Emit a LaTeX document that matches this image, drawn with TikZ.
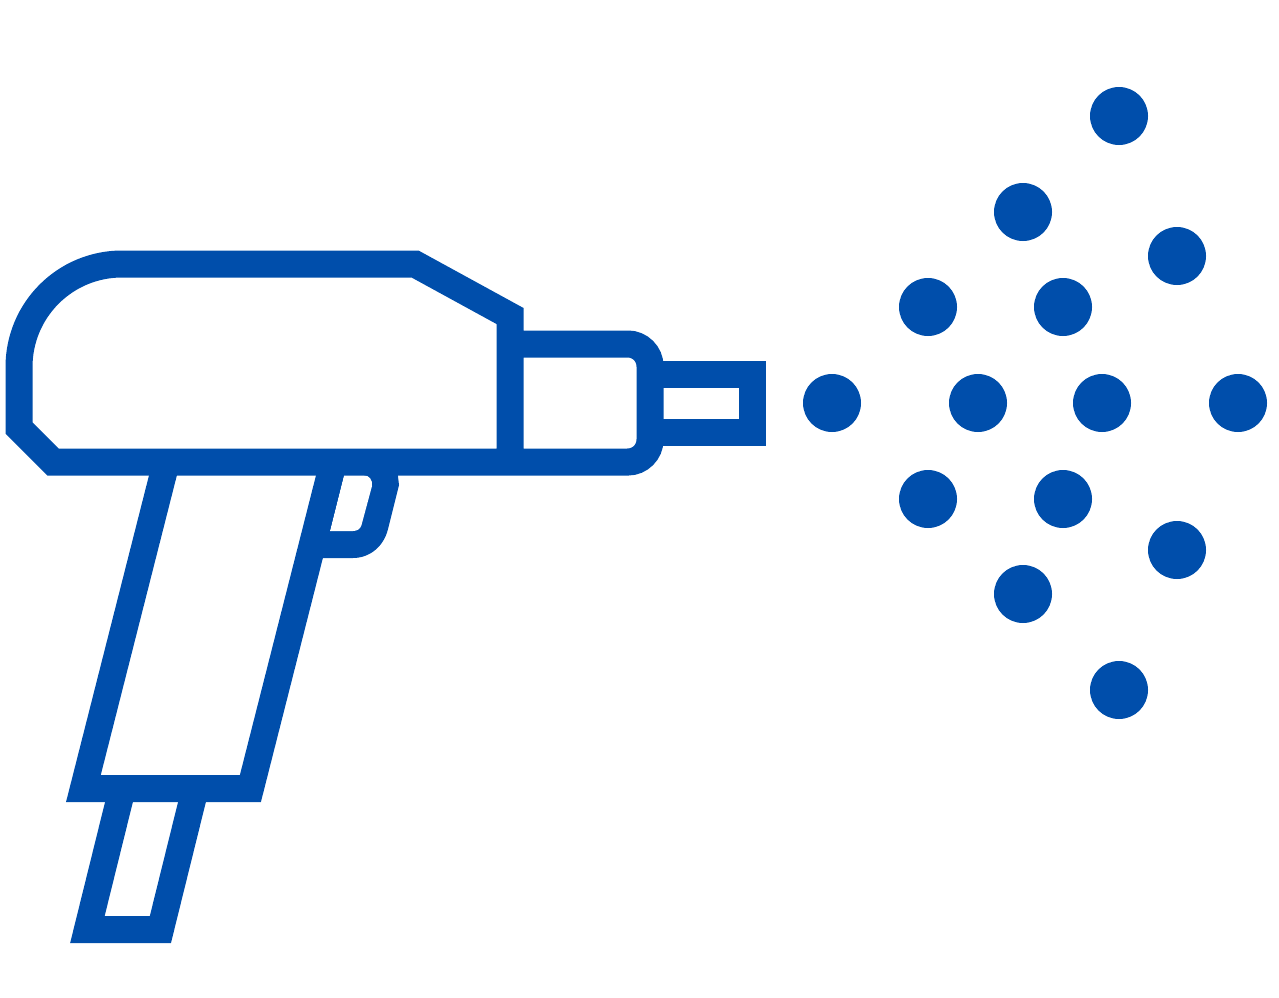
\documentclass[tikz,border=0pt]{standalone}
\definecolor{gunblue}{RGB}{0,78,171}
\tikzset{
  gunline/.style={draw=gunblue,line width=27pt,miter limit=10,line join=miter,line cap=butt},
  spraydot/.style={circle,fill=gunblue,draw=none,minimum size=58pt,inner sep=0pt,outer sep=0pt}
}
\begin{document}
\begin{tikzpicture}[x=1pt,y=-1pt]
\useasboundingbox (0,0) rectangle (1279,998);
% trigger: outer shape, then its opening
\fill[gunblue] (325,468) -- (397,468) -- (399,485) -- (388,529)
  .. controls (384,546) and (370,558) .. (353,558) -- (318,558) -- cycle;
\fill[white] (344,475) -- (363,475) .. controls (369,475) and (373,480) .. (372,486) -- (361.5,525)
  .. controls (360.5,529) and (357,531) .. (353,531) -- (330,531) -- cycle;
% lower grip
\draw[gunline] (120.7,795) -- (87.4,929.5) -- (160.4,929.5) -- (193.7,795);
% handle
\draw[gunline] (164.3,470) -- (83.4,788.5) -- (250.4,788.5) -- (331.3,470);
% body
\draw[gunline] (510,462) -- (510,316) -- (415,264) -- (122,264)
  .. controls (65,264) and (19,310) .. (19,367) -- (19,428) -- (53,462) -- (628,462)
  .. controls (640,462) and (650,452) .. (650,440) -- (650,366)
  .. controls (650,354) and (640,344) .. (628,344) -- (510,344);
% nozzle
\draw[gunline] (650,374.5) -- (752,374.5) -- (752,432.5) -- (650,432.5);
% dots
\foreach \n/\a/\b in {a/1119/116,b/1023/212,c/1177/256,d/928/307,e/1063/307,f/832/403,g/978/403,h/1102/403,i/1238/403,j/928/499,k/1063/499,l/1177/550,m/1023/594,o/1119/690}
  \node[spraydot] (dot\n) at (\a,\b) {};
\end{tikzpicture}
\end{document}
